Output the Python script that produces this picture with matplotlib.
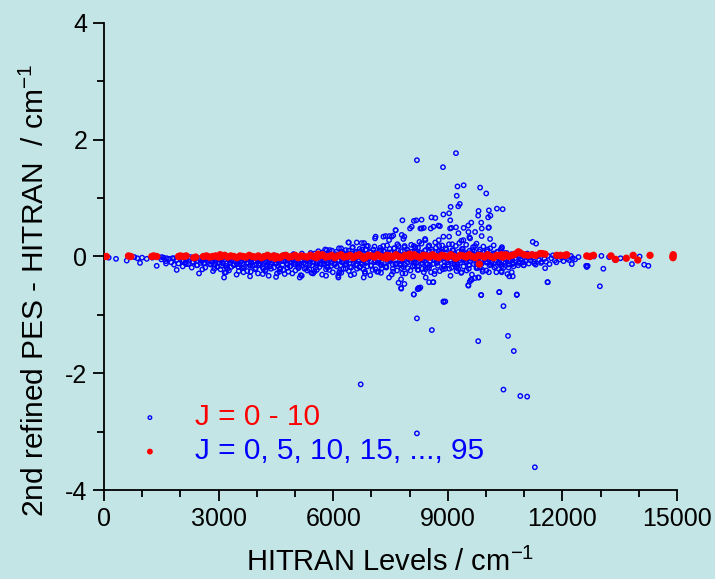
import matplotlib
matplotlib.use('Agg')
import matplotlib.pyplot as plt
from matplotlib.ticker import MultipleLocator

# 2nd refined PES minus HITRAN energy levels

plt.rcParams['font.family'] = ['Liberation Sans', 'DejaVu Sans']
plt.rcParams['mathtext.fontset'] = 'custom'
plt.rcParams['mathtext.rm'] = 'Liberation Sans'
plt.rcParams['mathtext.it'] = 'Liberation Sans:italic'
plt.rcParams['axes.unicode_minus'] = False

bg = '#c4e5e6'

# J = 0 - 10 levels: main band close to zero
band_x = [1500, 1560, 1620, 1700, 1760, 1830, 1900, 1950, 2010, 2080, 2150, 2200, 2260, 2320, 2380,
          2440, 2500, 2560, 2620, 2680, 2740, 2800, 2850, 2910, 2960, 3010, 3060, 3110, 3160, 3210,
          3260, 3300, 3350, 3400, 3450, 3500, 3540, 3590, 3640, 3680, 3730, 3780, 3820, 3870, 3920,
          3960, 4010, 4060, 4100, 4150, 4190, 4240, 4280, 4330, 4370, 4420, 4460, 4510, 4550, 4600,
          4640, 4690, 4730, 4780, 4820, 4870, 4910, 4960, 5000, 5050, 5090, 5140, 5180, 5230, 5270,
          5320, 5360, 5410, 5450, 5500, 5540, 5590, 5630, 5680, 5720, 5770, 5810, 5860, 5900, 5950,
          5990, 6040, 6080, 6130, 6170, 6220, 6260, 6310, 6350, 6400, 6440, 6490, 6530, 6580, 6620,
          6670, 6710, 6760, 6800, 6850, 6890, 6940, 6980, 7030, 7070, 7120, 7160, 7210, 7250, 7300,
          7340, 7390, 7430, 7480, 7520, 7570, 7610, 7660, 7700, 7750, 7790, 7840, 7880, 7930, 7970,
          8020, 8060, 8110, 8150, 8200, 8240, 8290, 8330, 8380, 8420, 8470, 8510, 8560, 8600, 8650,
          8690, 8740, 8780, 8830, 8870, 8920, 8960, 9010, 9050, 9100, 9140, 9190, 9230, 9280, 9320,
          9370, 9410, 9460, 9500, 9550, 9590, 9640, 9680, 9730, 9770, 9820, 9860, 9910, 9950, 10000,
          10040, 10090, 10130, 10180, 10220, 10270, 10310, 10360, 10400, 10450, 10490, 10540, 10580, 10630, 10670,
          10720, 10760, 10810, 10850, 10900, 10940, 10990, 11030, 11080, 11120, 11170, 11210, 11260, 11300, 11350,
          11390, 11440, 11480, 11530, 11570, 11620, 11660, 11710, 11750, 11800, 11840, 11890, 11930, 11980, 12030,
          12070, 12120, 12170, 12220, 12270, 12330]
band_y = [-0.05, -0.02, -0.08, -0.04, -0.10, -0.03, -0.06, -0.12, -0.02, -0.07, -0.04, -0.13, -0.01, -0.09, -0.05,
          -0.15, -0.03, -0.08, -0.11, -0.02, -0.06, -0.14, -0.04, -0.09, -0.17, -0.02, -0.07, -0.12, -0.05, -0.19,
          -0.03, -0.10, -0.06, -0.15, -0.01, -0.08, -0.13, -0.04, -0.20, -0.07, -0.11, -0.02, -0.16, -0.05, -0.09,
          -0.22, -0.03, -0.12, -0.06, -0.18, 0.01, -0.09, -0.14, -0.04, -0.21, -0.07, 0.02, -0.11, -0.16, -0.03,
          -0.08, -0.23, 0.03, -0.12, -0.05, -0.17, -0.09, 0.04, -0.14, -0.02, -0.20, -0.07, 0.05, -0.11, -0.04,
          -0.24, -0.09, 0.06, -0.15, -0.03, -0.19, 0.02, -0.08, -0.13, 0.07, -0.06, -0.22, -0.10, 0.04, -0.16,
          -0.02, -0.12, 0.08, -0.07, -0.25, -0.04, 0.05, -0.14, -0.09, 0.10, -0.18, -0.01, -0.11, 0.06, -0.21,
          -0.05, 0.09, -0.13, -0.08, 0.12, -0.17, -0.03, 0.07, -0.23, -0.10, 0.04, -0.06, 0.11, -0.15, -0.02,
          0.08, -0.19, -0.09, 0.13, -0.04, -0.26, 0.06, -0.12, 0.10, -0.07, -0.20, 0.03, -0.14, 0.12, -0.05,
          -0.24, 0.08, -0.10, 0.14, -0.17, -0.03, 0.06, -0.21, -0.08, 0.11, -0.13, 0.02, -0.27, 0.09, -0.06,
          0.15, -0.16, -0.02, 0.07, -0.22, -0.09, 0.12, -0.14, 0.04, -0.19, 0.10, -0.05, -0.25, 0.08, -0.11,
          0.13, -0.17, -0.03, 0.06, -0.21, -0.08, 0.11, -0.13, 0.03, -0.18, 0.09, -0.06, -0.23, 0.07, -0.10,
          0.12, -0.15, -0.02, 0.05, -0.19, -0.07, 0.08, -0.12, 0.02, -0.20, -0.04, 0.06, -0.14, -0.08, 0.04,
          -0.17, -0.03, 0.07, -0.11, -0.05, 0.03, -0.15, -0.08, 0.05, -0.12, -0.02, 0.04, -0.09, -0.14, 0.02,
          -0.06, -0.11, 0.03, -0.04, -0.09, 0.01, -0.13, -0.03, 0.02, -0.07, -0.10, 0.01, -0.05, -0.02, -0.08,
          0.02, -0.04, -0.06, 0.01, -0.03, -0.05]

# more of the dense band
band2_x = [4050, 4250, 4400, 4580, 4750, 4950, 5120, 5300, 5480, 5650, 5830, 6010, 6190, 6370, 6550,
           6730, 6910, 7090, 7270, 7450, 7630, 7810, 7990, 8170, 8350, 8530, 8710, 8890, 9070, 9250,
           9430, 9610, 9790, 9970, 10150, 10330, 10510, 10690, 10870, 11050, 5020, 5560, 6100, 6640, 7180,
           7720, 8260, 8800, 9340, 9880, 10420]
band2_y = [-0.04, -0.02, -0.10, -0.06, -0.01, -0.07, -0.12, -0.05, -0.09, -0.02, -0.11, -0.06, -0.15, -0.03, -0.08,
           -0.12, -0.01, -0.07, -0.10, -0.04, -0.14, -0.08, -0.01, -0.11, -0.05, -0.15, -0.09, -0.03, -0.08, -0.13,
           -0.06, -0.02, -0.10, -0.05, -0.09, -0.03, -0.11, -0.06, -0.01, -0.07, 0.01, -0.01, 0.02, 0.03, 0.01,
           0.04, 0.02, 0.03, 0.01, 0.02, -0.01]

band3_x = [2530, 2590, 2650, 2710, 2770, 2830, 2890, 2950, 3020, 3080,
           3140, 3200, 3270, 3330, 3390, 3460, 3520, 3580, 3650, 3710,
           3770, 3840, 3900, 3970, 4030, 4090, 4160, 4220, 4290, 4350,
           4410, 4480, 4540, 4610, 4670, 4730, 4800, 4860, 4930, 4990,
           5060, 5120, 5190, 5250, 5310, 5380, 5440, 5510, 5570, 5640,
           5700, 5760, 5830, 5890, 5960, 6020, 6090, 6150, 6210, 6280,
           6340, 6410, 6470, 6540, 6600, 6660, 6730, 6790, 6860, 6920,
           6990, 7050, 7110, 7180, 7240, 7310, 7370, 7440, 7500, 7560,
           7630, 7690, 7760, 7820, 7890, 7950, 8010, 8080, 8140, 8210,
           8270, 8340, 8400, 8460, 8530, 8590, 8660, 8720, 8790, 8850,
           8910, 8980, 9040, 9110, 9170, 9240, 9300, 9360, 9430, 9490,
           9560, 9620, 9690, 9750, 9810, 9880, 9940, 10010, 10070, 10140,
           10200, 10260, 10330, 10390, 10460, 10520, 10590, 10650, 10710, 10780,
           10840, 10910, 10970]
band3_y = [-0.11, -0.06, -0.19, -0.03, -0.13, -0.08, -0.21, -0.05, -0.10, -0.16,
           -0.02, -0.12, -0.24, -0.07, -0.14, -0.04, -0.18, -0.09, -0.27, -0.06,
           -0.11, -0.15, -0.03, -0.20, -0.08, -0.13, -0.05, -0.25, -0.10, -0.17,
           -0.02, -0.12, -0.07, -0.22, -0.14, -0.04, -0.19, -0.09, -0.29, -0.06,
           -0.12, -0.16, -0.01, -0.21, -0.08, -0.13, -0.05, -0.26, -0.10, -0.18,
           -0.03, -0.14, -0.07, -0.23, -0.11, 0.02, -0.17, -0.06, -0.28, -0.09,
           -0.13, 0.04, -0.19, -0.05, -0.15, -0.08, 0.03, -0.22, -0.11, -0.04,
           -0.16, 0.05, -0.09, -0.26, -0.13, -0.02, -0.18, 0.06, -0.07, -0.21,
           -0.12, 0.01, -0.15, -0.05, -0.29, -0.10, 0.04, -0.17, -0.08, -0.23,
           0.07, -0.13, -0.03, -0.19, -0.09, 0.05, -0.25, -0.11, -0.06, 0.08,
           -0.16, -0.02, -0.21, -0.12, 0.03, -0.18, -0.07, -0.27, 0.06, -0.10,
           -0.15, -0.04, 0.09, -0.20, -0.08, -0.13, 0.02, -0.24, -0.06, -0.11,
           0.05, -0.17, -0.03, -0.14, -0.09, 0.01, -0.19, -0.07, -0.12, 0.03,
           -0.15, -0.05, -0.10]

band4_x = [5520, 5610, 5700, 5790, 5880, 5970, 6060, 6150, 6240, 6330,
           6420, 6510, 6600, 6690, 6780, 6870, 6960, 7050, 7140, 7230,
           7320, 7410, 7500, 7590, 7680, 7770, 7860, 7950, 8040, 8130,
           8220, 8310, 8400, 8490, 8580, 8670, 8760, 8850, 8940, 9030,
           9120, 9210, 9300, 9390, 9480, 9570, 9660, 9750, 9840, 9930,
           10020, 10110, 10200, 10290, 10380, 10470]
band4_y = [0.05, 0.09, 0.03, 0.12, 0.06, 0.10, 0.04, 0.14, 0.07, 0.11,
           0.05, 0.16, 0.08, 0.13, 0.06, 0.18, 0.09, 0.12, 0.05, 0.15,
           0.10, 0.19, 0.07, 0.14, 0.21, 0.09, 0.16, 0.11, 0.20, 0.08,
           0.15, 0.22, 0.10, 0.17, 0.12, 0.24, 0.09, 0.19, 0.14, 0.21,
           0.11, 0.18, 0.23, 0.13, 0.20, 0.10, 0.16, 0.22, 0.12, 0.17,
           0.09, 0.14, 0.19, 0.08, 0.12, 0.06]

band5_x = [3050, 3190, 3330, 3470, 3610, 3750, 3890, 4030, 4170, 4310,
           4450, 4590, 4730, 4870, 5010, 5150, 5290, 5430, 5570, 5710,
           5850, 5990, 6130, 6270, 6410, 6550, 6690, 6830, 6970, 7110,
           7250, 7390, 7530, 7670, 7810, 7950, 8090, 8230, 8370, 8510,
           8650, 8790, 8930, 9070, 9210, 9350, 9490, 9630, 9770, 9910]
band5_y = [-0.22, -0.27, -0.18, -0.31, -0.20, -0.25, -0.16, -0.29, -0.21, -0.33,
           -0.19, -0.26, -0.30, -0.17, -0.24, -0.32, -0.20, -0.28, -0.23, -0.31,
           -0.18, -0.27, -0.33, -0.21, -0.25, -0.30, -0.19, -0.26, -0.32, -0.22,
           -0.28, -0.17, -0.31, -0.24, -0.29, -0.20, -0.34, -0.23, -0.27, -0.19,
           -0.30, -0.25, -0.21, -0.33, -0.18, -0.28, -0.24, -0.31, -0.20, -0.26]

band6_x = [2050, 2145, 2240, 2335, 2430, 2525, 2620, 2715, 2810, 2905,
           3000, 3095, 3190, 3285, 3380, 3475, 3570, 3665, 3760, 3855,
           3950, 4045, 4140, 4235, 4330, 4425, 4520, 4615, 4710, 4805,
           4900, 4995, 5090, 5185, 5280, 5375, 5470, 5565, 5660, 5755,
           5850, 5945, 6040, 6135, 6230, 6325, 6420, 6515, 6610, 6705,
           6800, 6895, 6990, 7085, 7180, 7275, 7370, 7465, 7560, 7655,
           7750, 7845, 7940, 8035, 8130, 8225, 8320, 8415, 8510, 8605,
           8700, 8795, 8890, 8985, 9080, 9175, 9270, 9365, 9460, 9555,
           9650, 9745, 9840, 9935, 10030, 10125, 10220, 10315, 10410, 10505,
           10600, 10695, 10790, 10885, 10980, 11075, 11170, 11265, 11360, 11455]
band6_y = [-0.08, -0.13, -0.04, -0.10, -0.15, -0.06, -0.12, -0.03, -0.09, -0.14,
           -0.05, -0.11, -0.16, -0.07, -0.02, -0.13, -0.09, -0.18, -0.04, -0.11,
           -0.07, -0.15, -0.03, -0.10, -0.17, -0.06, -0.12, -0.20, -0.08, -0.14,
           -0.04, -0.11, -0.18, -0.07, -0.13, -0.22, -0.09, -0.15, -0.05, -0.12,
           -0.19, -0.08, -0.14, 0.03, -0.10, -0.21, -0.06, 0.05, -0.13, -0.17,
           0.04, -0.09, -0.15, 0.06, -0.11, -0.20, 0.02, -0.07, -0.14, 0.05,
           -0.12, -0.18, 0.07, -0.09, -0.16, 0.04, -0.11, -0.22, 0.08, -0.13,
           -0.06, 0.10, -0.17, -0.10, 0.06, -0.14, -0.21, 0.09, -0.08, -0.15,
           0.05, -0.12, -0.19, 0.07, -0.09, -0.14, 0.03, -0.11, -0.17, 0.04,
           -0.08, -0.13, 0.02, -0.10, -0.15, 0.03, -0.07, -0.12, 0.01, -0.09]

# low-energy and high-energy edges
edge_x = [122, 314, 594, 794, 872, 942, 995, 1118, 1265, 1379, 1510, 1623, 1641, 1789, 1833,
          1902, 2060, 2130, 2295, 2487, 2574, 2854, 2967, 3142, 3159, 3238, 3526, 3822, 3840, 4155,
          4233, 12420, 12820, 13020, 13220, 13520, 13820, 14020, 14140, 14250, 12620, 13071, 12244, 12637, 13380]
edge_y = [-0.02, -0.04, -0.07, -0.01, -0.03, -0.11, -0.02, -0.04, -0.02, -0.16, -0.01, -0.12, -0.03, -0.03, -0.14,
          -0.23, -0.17, -0.10, -0.19, -0.29, -0.22, -0.25, -0.18, -0.36, -0.28, -0.21, -0.25, -0.34, -0.26, -0.30,
          -0.23, -0.01, 0.00, 0.01, -0.01, -0.03, -0.13, 0.00, -0.14, -0.16, -0.16, -0.21, -0.13, -0.18, -0.06]

# scattered points above the band
upper_x = [5830, 6397, 6615, 6746, 7095, 7313, 7461, 7531, 7636, 7793, 7837, 8055, 8256, 8317, 8404,
           8552, 6222, 6500, 6760, 7080, 7250, 7600, 7870, 8150, 8622, 8884, 9059, 9277, 9408, 9539,
           9713, 9888, 10062, 9582, 10106, 10411, 11223, 11310, 5907, 6207, 6407, 6808, 6908, 7310, 7710,
           8111, 8512, 8772, 9113, 9714, 10416, 7370, 7109, 7470, 7570, 7861, 8412, 8762, 9033, 9353,
           9564, 9885, 7811, 8111, 8171, 8312, 8572, 8672, 8883, 9033, 9063, 9794, 9534, 10075, 9414,
           9614, 9874, 8011, 8281, 8371, 8752, 8792, 9093, 9213, 7631]
upper_y = [0.11, 0.24, 0.24, 0.23, 0.31, 0.34, 0.28, 0.34, 0.45, 0.37, 0.30, 0.51, 0.25, 0.48, 0.30,
           0.48, 0.08, 0.15, 0.12, 0.17, 0.10, 0.14, 0.18, 0.16, 0.51, 0.34, 0.48, 0.40, 0.28, 0.42,
           0.42, 0.48, 0.49, 0.31, 0.30, 0.14, 0.25, 0.22, 0.11, 0.14, 0.24, 0.23, 0.18, 0.18, 0.18,
           0.18, 0.19, 0.18, 0.21, 0.18, 0.16, 0.35, 0.34, 0.35, 0.36, 0.34, 0.28, 0.28, 0.34, 0.27,
           0.33, 0.35, 0.62, 0.61, 0.62, 0.63, 0.67, 0.66, 0.72, 0.74, 0.62, 0.70, 0.53, 0.50, 0.49,
           0.58, 0.58, 0.48, 0.48, 0.49, 0.53, 0.52, 0.49, 0.50, 0.45]

# scattered points below the band
lower_x = [4503, 4529, 4826, 5123, 5175, 5472, 5812, 6135, 6152, 6458, 6798, 6833, 7147, 7461, 7776,
           7863, 7776, 8107, 8230, 8282, 8421, 8509, 8622, 8884, 9539, 9600, 9713, 9809, 9870, 10350,
           10673, 10699, 10804, 11607, 10270, 10410, 7710, 7781, 8212, 8252, 8111, 8612, 8893, 8933, 9874,
           10345, 10456, 10806, 11617, 12980, 9534, 9574, 9624, 9794, 10075, 10400, 10560, 10610, 11547, 12660]
lower_y = [-0.35, -0.29, -0.26, -0.36, -0.33, -0.29, -0.33, -0.36, -0.28, -0.32, -0.36, -0.29, -0.26, -0.36, -0.39,
           -0.47, -0.54, -0.65, -0.54, -0.53, -0.36, -0.44, -0.44, -0.77, -0.50, -0.40, -0.37, -0.36, -0.66, -0.61,
           -0.27, -0.34, -0.66, -0.44, -0.27, -0.27, -0.45, -0.55, -0.56, -0.55, -0.65, -0.44, -0.78, -0.77, -0.66,
           -0.61, -0.85, -0.65, -0.44, -0.51, -0.49, -0.43, -0.40, -0.36, -0.27, -0.25, -0.30, -0.34, -0.20, -0.16]

# large deviations
far_x = [8191, 9213, 8873, 9253, 9414, 9845, 10005, 9233, 9073, 9273, 9313, 9804, 10075, 10285, 10435,
         10055, 10115, 8191, 8582, 9795, 10576, 10727, 6719, 10456, 10897, 11077, 8191, 11278]
far_y = [1.65, 1.77, 1.53, 1.20, 1.22, 1.18, 1.08, 1.04, 0.85, 0.86, 0.90, 0.78, 0.79, 0.82, 0.81,
         0.67, 0.70, -1.06, -1.26, -1.45, -1.36, -1.62, -2.19, -2.28, -2.39, -2.40, -3.03, -3.61]

# J = 0, 5, 10, ..., 95 levels
red_x = [0, 60, 640, 700, 1250, 1300, 1380, 1950, 2000, 2080, 2150, 2350, 2400, 2600, 2680,
         2760, 2840, 2920, 3000, 3080, 3160, 3240, 3320, 3400, 3480, 3560, 3640, 3720, 3800, 3880,
         3960, 4040, 4120, 4200, 4280, 4360, 4440, 4520, 4600, 4680, 4760, 4840, 4920, 5000, 5080,
         5160, 5240, 5320, 5400, 5480, 5560, 5640, 5720, 5800, 5880, 5960, 6040, 6120, 6200, 6280,
         6360, 6440, 6520, 6600, 6680, 6760, 6840, 6920, 7000, 7080, 7160, 7240, 7320, 7400, 7480,
         7560, 7640, 7720, 7800, 7880, 7960, 8040, 8120, 8200, 8280, 8360, 8440, 8520, 8600, 8680,
         8760, 8840, 8920, 9000, 9080, 9160, 9240, 9320, 9400, 9480, 9560, 9640, 9720, 9800, 9880,
         9960, 10040, 10120, 10200, 10280, 10360, 10440, 10520, 10600, 10680, 10760, 10848, 10900, 11000, 11100,
         11200, 11300, 11415, 11468, 11545, 11850, 11950, 12069, 12113, 12637, 12720, 12811, 13271, 13392, 13672,
         13852, 13972, 14293, 14894, 14900, 14894, 9826, 3040, 4480, 5600, 6800, 8000, 9200, 10400, 7400]
red_y = [0.00, 0.00, 0.01, 0.00, 0.00, 0.01, 0.00, 0.00, 0.01, 0.00, 0.01, -0.02, -0.01, 0.00, 0.01,
         -0.01, 0.00, 0.01, -0.01, 0.00, 0.02, -0.01, 0.01, 0.00, -0.02, 0.01, 0.00, -0.01, 0.02, 0.00,
         -0.01, 0.01, -0.02, 0.00, 0.02, -0.01, 0.01, 0.00, -0.02, 0.01, 0.02, -0.01, 0.00, 0.02, -0.02,
         0.01, 0.00, -0.01, 0.02, 0.00, -0.02, 0.01, 0.03, -0.01, 0.00, 0.02, -0.02, 0.01, 0.03, -0.01,
         0.00, 0.02, -0.02, 0.01, 0.03, 0.00, -0.02, 0.02, 0.01, -0.01, 0.03, 0.00, -0.02, 0.02, 0.01,
         -0.01, 0.03, 0.00, -0.02, 0.02, 0.01, -0.01, 0.03, 0.00, -0.02, 0.02, 0.01, -0.01, 0.03, 0.00,
         -0.02, 0.02, 0.01, -0.01, 0.03, 0.00, -0.02, 0.02, 0.01, -0.01, 0.03, 0.00, -0.02, 0.02, 0.01,
         -0.01, 0.03, 0.00, -0.02, 0.02, 0.01, -0.01, 0.03, 0.00, 0.02, 0.04, 0.08, 0.06, 0.03, 0.02,
         0.03, 0.02, 0.05, 0.05, 0.04, 0.02, 0.02, 0.02, 0.03, 0.01, 0.00, 0.02, 0.01, -0.05, -0.03,
         0.02, -0.06, 0.02, 0.00, 0.03, -0.02, -0.13, 0.03, -0.03, 0.04, -0.03, 0.04, -0.03, 0.03, -0.03]

blue_x = band_x + band2_x + band3_x + band4_x + band5_x + band6_x + edge_x + upper_x + lower_x + far_x
blue_y = band_y + band2_y + band3_y + band4_y + band5_y + band6_y + edge_y + upper_y + lower_y + far_y

fig = plt.figure(figsize=(7.15, 5.79), dpi=100)
fig.patch.set_facecolor(bg)
ax = fig.add_axes([0.1455, 0.1537, 0.8014, 0.8066])
ax.set_facecolor(bg)

ax.scatter(blue_x, blue_y, s=10, facecolors='none', edgecolors='#0000ff', linewidths=1.0,
           label='J = 0 - 10', zorder=2)
ax.scatter(red_x, red_y, s=28, c='#ff0000', edgecolors='none',
           label='J = 0, 5, 10, 15, ..., 95', zorder=3)

ax.set_xlim(0, 15000)
ax.set_ylim(-4, 4)
ax.xaxis.set_major_locator(MultipleLocator(3000))
ax.xaxis.set_minor_locator(MultipleLocator(1000))
ax.yaxis.set_major_locator(MultipleLocator(2))
ax.yaxis.set_minor_locator(MultipleLocator(1))

for side in ['top', 'right']:
    ax.spines[side].set_visible(False)
for side in ['left', 'bottom']:
    ax.spines[side].set_linewidth(1.3)

ax.tick_params(which='major', direction='out', length=8, width=1.3, labelsize=18, pad=4)
ax.tick_params(which='minor', direction='out', length=5, width=1.3)

ax.set_xlabel('HITRAN Levels / cm$^{-1}$', fontsize=21, labelpad=12)
ax.set_ylabel('2nd refined PES - HITRAN  / cm$^{-1}$', fontsize=21.5)
ax.yaxis.set_label_coords(-0.094, 0.428)

leg = ax.legend(loc='center left', bbox_to_anchor=(0.054, 0.119), frameon=False, fontsize=21.5,
                handlelength=1.0, handletextpad=1.0, labelspacing=0.2, borderpad=0, borderaxespad=0,
                scatterpoints=1, markerscale=0.8)
leg.get_texts()[0].set_color('#ff0000')
leg.get_texts()[1].set_color('#0000ff')

fig.savefig('out.png', dpi=100, facecolor=bg)
print('Saving out.png')
